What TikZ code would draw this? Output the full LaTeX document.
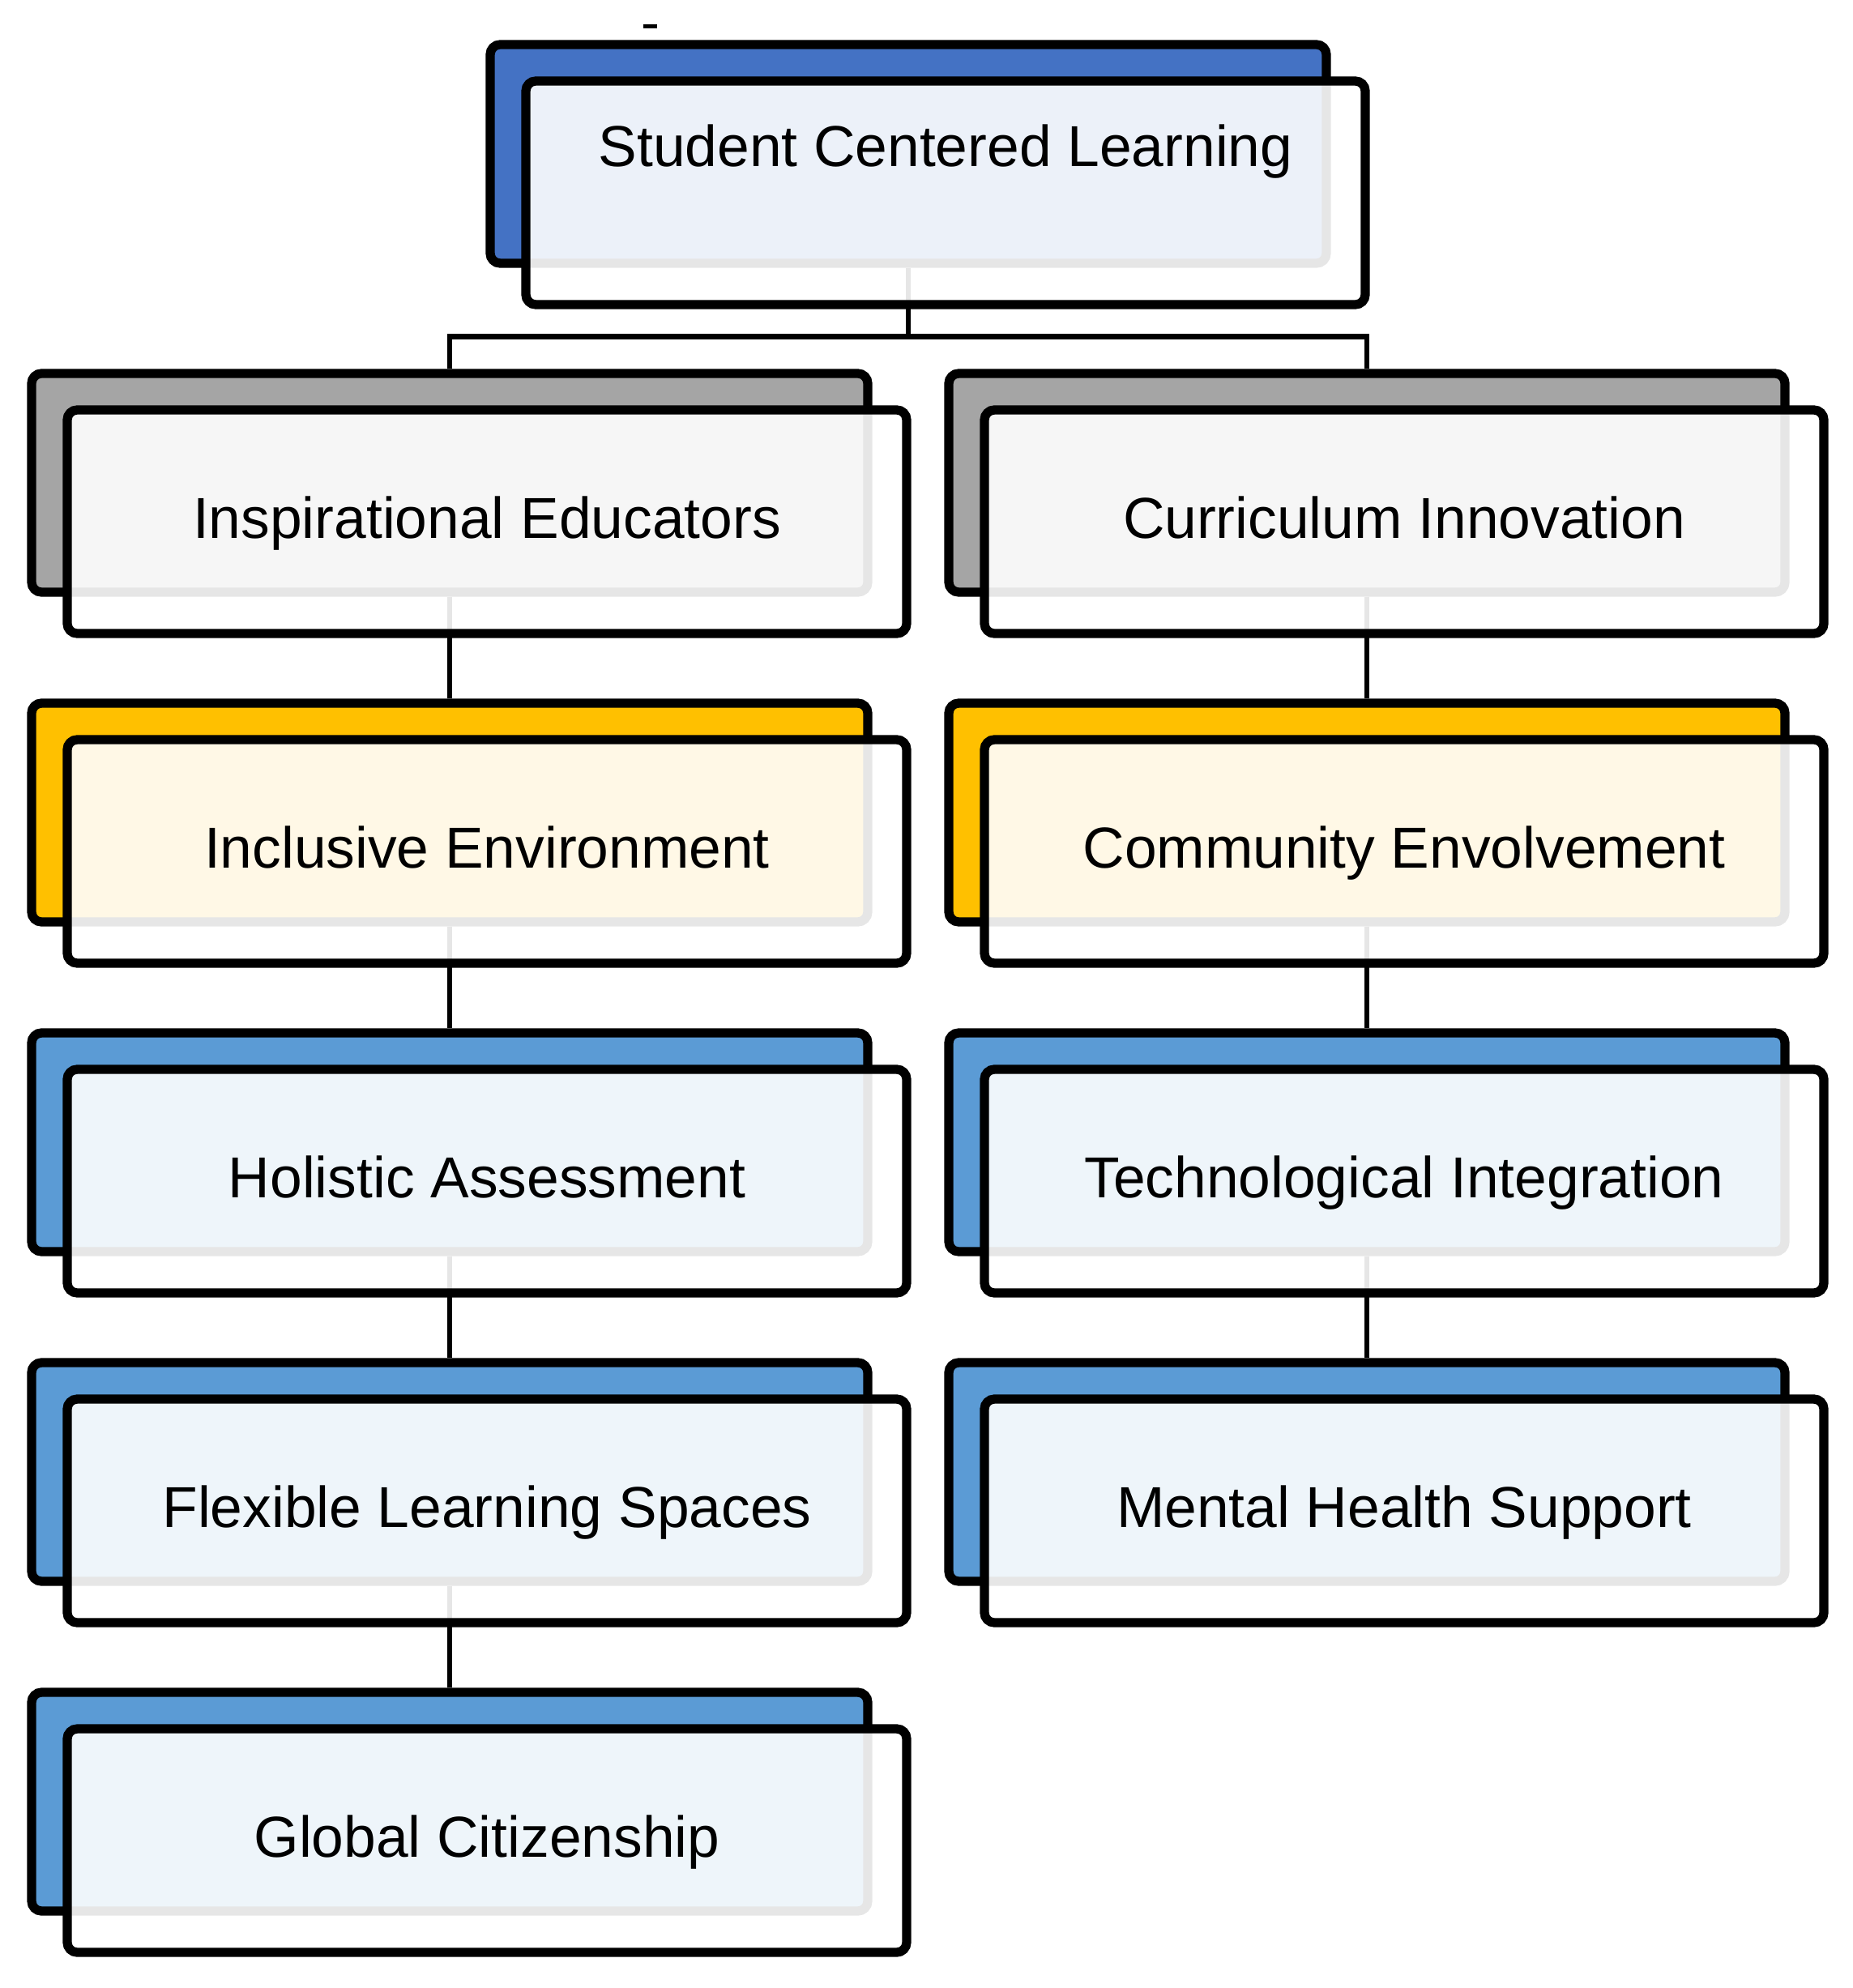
\documentclass[tikz,border=0pt]{standalone}
\usepackage{fontspec}
\setmainfont{Liberation Sans}
\usetikzlibrary{calc}
\definecolor{topblue}{HTML}{4472C4}
\definecolor{midgray}{HTML}{A5A5A5}
\definecolor{gold}{HTML}{FFC000}
\definecolor{skyblue}{HTML}{5B9BD5}

\begin{document}
\begin{tikzpicture}[
    back/.style={draw, line width=3.2pt, rounded corners=3.5pt,
      minimum width=10.32cm, minimum height=2.70cm, inner sep=0pt},
    front/.style={draw, line width=3.2pt, rounded corners=3.5pt,
      fill=white, fill opacity=0.9, text opacity=1,
      minimum width=10.36cm, minimum height=2.76cm, inner sep=0pt,
      font=\fontsize{20.3}{24}\selectfont, text height=14.5pt, text depth=3pt},
    link/.style={line width=1.9pt}
  ]
  \useasboundingbox (0,0) rectangle (22.87,-24.54);
  \fill (7.94,-0.30) rectangle (8.11,-0.35);

  % back cards
  \node[back, fill=topblue] (scl-b) at (11.21,-1.90) {};
  \foreach \n/\x/\y/\c in {ie/5.55/-5.96/midgray, ci/16.87/-5.96/midgray,
      ien/5.55/-10.03/gold, ce/16.87/-10.03/gold,
      ha/5.55/-14.10/skyblue, ti/16.87/-14.10/skyblue,
      fls/5.55/-18.17/skyblue, mhs/16.87/-18.17/skyblue,
      gc/5.55/-22.24/skyblue}
    \node[back, fill=\c] (\n-b) at (\x,\y) {};

  % links
  \draw[link] (scl-b.south) -- ++(0,-0.85) -| (ie-b.north);
  \draw[link] (scl-b.south) -- ++(0,-0.85) -| (ci-b.north);
  \draw[link] (ie-b.south) -- (ien-b.north);
  \draw[link] (ien-b.south) -- (ha-b.north);
  \draw[link] (ha-b.south) -- (fls-b.north);
  \draw[link] (fls-b.south) -- (gc-b.north);
  \draw[link] (ci-b.south) -- (ce-b.north);
  \draw[link] (ce-b.south) -- (ti-b.north);
  \draw[link] (ti-b.south) -- (mhs-b.north);

  % front cards
  \node[front] (scl) at ([shift={(0.46,-0.48)}]scl-b.center) {};
  \node[font=\fontsize{20.3}{24}\selectfont, text height=14.5pt, text depth=0pt,
    inner sep=0pt] (scl-t) at ([yshift=0.58cm]scl.center)
    {Student Centered Learning};
  \foreach \n/\t in {ie/Inspirational Educators, ci/Curriculum Innovation,
      ien/Inclusive Environment, ce/Community Envolvement,
      ha/Holistic Assessment, ti/Technological Integration,
      fls/Flexible Learning Spaces, mhs/Mental Health Support,
      gc/Global Citizenship}
    \node[front] (\n) at ([shift={(0.46,-0.48)}]\n-b.center) {\t};
\end{tikzpicture}
\end{document}
